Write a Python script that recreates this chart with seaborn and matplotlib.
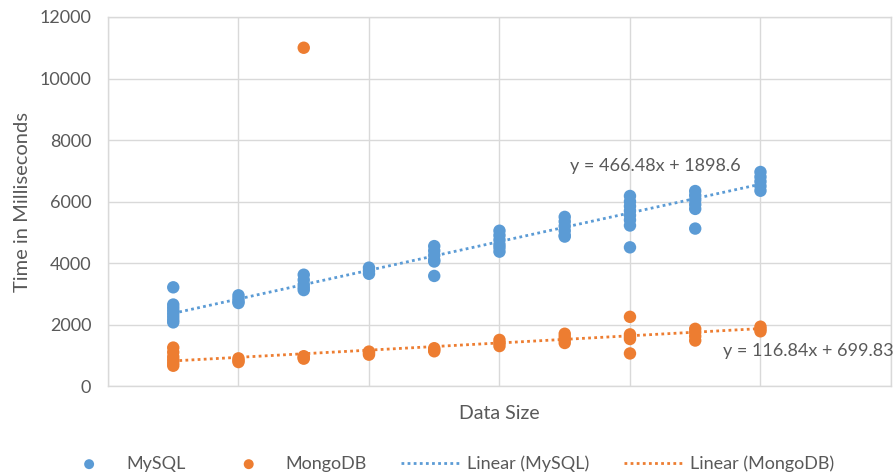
import numpy as np
import pandas as pd
import matplotlib
matplotlib.use("Agg")
import matplotlib.pyplot as plt
import seaborn as sns

sns.set_style("whitegrid")
plt.rcParams["font.family"] = ["Lato", "DejaVu Sans"]

# Data (x = data size step, y = time in ms)
sizes = [1, 2, 3, 4, 5, 6, 7, 8, 9, 10]
mysql_times = [
    [3210, 2650, 2550, 2450, 2350, 2250, 2150, 2070],
    [2950, 2850, 2750, 2700],
    [3620, 3450, 3300, 3200, 3120],
    [3850, 3750, 3650],
    [4550, 4400, 4250, 4100, 4050, 3580],
    [5050, 4900, 4750, 4600, 4500, 4370],
    [5500, 5350, 5200, 5050, 4900, 4860],
    [6180, 6000, 5850, 5700, 5550, 5400, 5220, 4510],
    [6340, 6200, 6050, 5900, 5760, 5120],
    [6960, 6800, 6650, 6500, 6350],
]
mongo_times = [
    [1250, 1100, 950, 850, 750, 660],
    [900, 830, 780],
    [11000, 970, 920, 890],
    [1120, 1070, 1020],
    [1230, 1180, 1130],
    [1500, 1400, 1300],
    [1700, 1600, 1500, 1400],
    [2250, 1680, 1600, 1530, 1060],
    [1860, 1750, 1620, 1480],
    [1930, 1850, 1780],
]
# trendline coefficients (slope, intercept) as printed on the chart
mysql_fit = (466.48, 1898.6)
mongo_fit = (116.84, 699.83)

blue = "#5B9BD5"
orange = "#ED7D31"
text_col = "#595959"
grid_col = "#d9d9d9"


def to_frame(times):
    rows = [(s, t) for s, ts in zip(sizes, times) for t in ts]
    return pd.DataFrame(rows, columns=["size", "time"])


mysql = to_frame(mysql_times)
mongo = to_frame(mongo_times)

fig = plt.figure(figsize=(8.94, 4.76), dpi=100)
ax = fig.add_axes([0.1208, 0.189, 0.8758, 0.7753])

sns.scatterplot(data=mysql, x="size", y="time", color=blue, s=80,
                edgecolor="none", label="MySQL", ax=ax, zorder=3)
sns.scatterplot(data=mongo, x="size", y="time", color=orange, s=80,
                edgecolor="none", label="MongoDB", ax=ax, zorder=3)

xs = np.array([sizes[0], sizes[-1]])
ax.plot(xs, mysql_fit[0] * xs + mysql_fit[1], color=blue, lw=2,
        linestyle=(0, (1, 1.2)), label="Linear (MySQL)", zorder=4)
ax.plot(xs, mongo_fit[0] * xs + mongo_fit[1], color=orange, lw=2,
        linestyle=(0, (1, 1.2)), label="Linear (MongoDB)", zorder=4)

ax.set_xlim(0, 12)
ax.set_ylim(0, 12000)
ax.set_xticks(np.arange(0, 13, 2))
ax.set_xticklabels([])
ax.set_yticks(np.arange(0, 12001, 2000))
ax.tick_params(axis="both", length=0, labelsize=13, labelcolor=text_col, pad=12)
ax.grid(True, color=grid_col, lw=1)
for sp in ax.spines.values():
    sp.set_color(grid_col)
    sp.set_linewidth(1)

ax.set_xlabel("Data Size", fontsize=14, color=text_col, labelpad=2)
ax.set_ylabel("Time in Milliseconds", fontsize=14.5, color=text_col, labelpad=6)

ax.text(7.08, 7150, f"y = {mysql_fit[0]}x + {mysql_fit[1]}", fontsize=13,
        color=text_col, va="center", ha="left")
ax.text(9.43, 1140, f"y = {mongo_fit[0]}x + {mongo_fit[1]}", fontsize=13,
        color=text_col, va="center", ha="left")

ax.legend(loc="center", bbox_to_anchor=(0.5, 0.026), bbox_transform=fig.transFigure,
          ncol=4, frameon=False, fontsize=13, labelcolor=text_col,
          markerscale=0.8, handlelength=3.2, handletextpad=0.45, columnspacing=1.9)

fig.savefig("out.png", dpi=100)
